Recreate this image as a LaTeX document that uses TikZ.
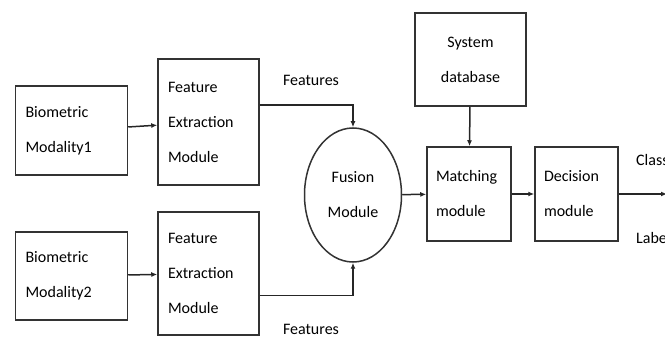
\documentclass[tikz,border=0pt]{standalone}
\usepackage{fontspec}
\setmainfont{Carlito}
\usetikzlibrary{arrows.meta,shapes.geometric}
\begin{document}
\begin{tikzpicture}[x=1pt,y=-1pt,
    blk/.style={draw=black!80, line width=1.5pt, inner sep=0pt, align=left,
      font=\fontsize{16}{35}\selectfont},
    arr/.style={draw=black!85, line width=1.5pt, -{Latex[length=6pt,width=5pt]}},
    lbl/.style={font=\fontsize{16}{18}\selectfont, inner sep=0pt}]
  \useasboundingbox (0,0) rectangle (665,339);
  \node[blk, minimum width=112pt, minimum height=89pt, text width=92pt] (bm1) at (71.5,130.5){Biometric\\Modality1};
  \node[blk, minimum width=112pt, minimum height=88pt, text width=92pt] (bm2) at (71.5,276){Biometric\\Modality2};
  \node[blk, minimum width=101pt, minimum height=126pt, text width=81pt] (fe1) at (208.5,122){Feature\\Extraction\\Module};
  \node[blk, minimum width=101pt, minimum height=123pt, text width=81pt] (fe2) at (208.5,273.5){Feature\\Extraction\\Module};
  \node[blk, ellipse, align=center, minimum width=97pt, minimum height=134pt] (fus) at (353,195){Fusion\\Module};
  \node[blk, align=center, minimum width=111pt, minimum height=93pt, text width=100pt] (db) at (470.5,59.5){System\\database};
  \node[blk, minimum width=84pt, minimum height=94pt, text width=66pt] (match) at (469,194){Matching\\module};
  \node[blk, minimum width=83pt, minimum height=94pt, text width=65pt] (dec) at (576.5,194){Decision\\module};
  \node[lbl] (feat1) at (311,80){Features};
  \node[lbl] (feat2) at (311,329){Features};
  \node[lbl, anchor=west] (cls) at (636,160){Class};
  \node[lbl, anchor=west] (lab) at (636,238){Label};
  \coordinate (out) at (667,194);
  \draw[arr] (bm1) -- (fe1);
  \draw[arr] (bm2) -- (fe2);
  \draw[arr] ([yshift=17pt]fe1.east) -| (fus.north);
  \draw[arr] ([yshift=-22pt]fe2.east) -| (fus.south);
  \draw[arr] (fus) -- (match);
  \draw[arr] (db) -- (match);
  \draw[arr] (match) -- (dec);
  \draw[arr] (dec) -- (out);
\end{tikzpicture}
\end{document}
